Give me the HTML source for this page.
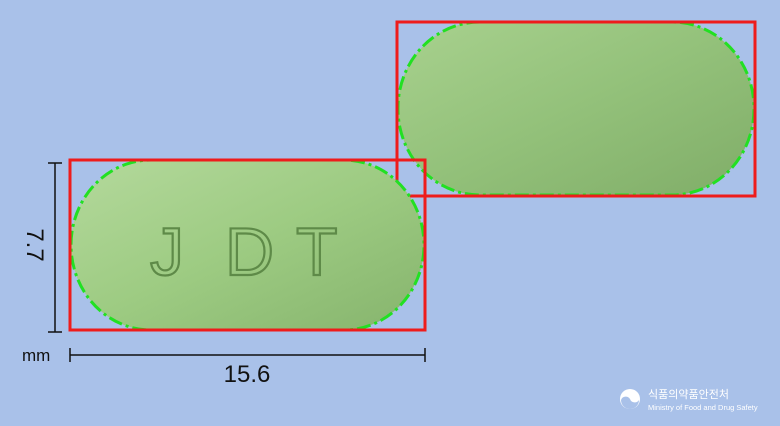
<!DOCTYPE html>
<html><head><meta charset="utf-8"><style>
html,body{margin:0;padding:0;background:#a9c1e9;}
svg{display:block;font-family:"Liberation Sans","Noto Sans CJK KR",sans-serif;}
</style></head><body>
<svg width="780" height="426" viewBox="0 0 780 426">
<defs>
<linearGradient id="g1" x1="0" y1="0" x2="1" y2="1">
<stop offset="0" stop-color="#b4d99c"/><stop offset="0.5" stop-color="#9dcb82"/><stop offset="1" stop-color="#86b46d"/>
</linearGradient>
<linearGradient id="g2" x1="0" y1="0" x2="1" y2="1">
<stop offset="0" stop-color="#a8d18e"/><stop offset="0.5" stop-color="#93c17a"/><stop offset="1" stop-color="#80ad68"/>
</linearGradient>
</defs>
<rect width="780" height="426" fill="#a9c1e9"/>
<g>
<rect x="398" y="22" width="356" height="173" rx="82" ry="86" fill="url(#g2)" stroke="#22e022" stroke-width="3" stroke-dasharray="14 4 3 4"/>
<rect x="397" y="22" width="358" height="174" fill="none" stroke="#ee1c1c" stroke-width="3"/>
</g>
<g>
<rect x="71" y="160" width="353" height="170" rx="80" ry="85" fill="url(#g1)" stroke="#22e022" stroke-width="3" stroke-dasharray="14 4 3 4"/>
<g font-size="68" fill="none" stroke="#5e8a48" stroke-width="2.2">
<text x="150" y="275">J</text>
<text x="225" y="275">D</text>
<text x="296" y="275">T</text>
</g>
<rect x="70" y="160" width="355" height="170" fill="none" stroke="#ee1c1c" stroke-width="3"/>
</g>
<g stroke="#111" stroke-width="1.5">
<line x1="55" y1="163" x2="55" y2="332"/><line x1="48" y1="163" x2="62" y2="163"/><line x1="48" y1="332" x2="62" y2="332"/>
</g>
<text transform="translate(27,245) rotate(90)" text-anchor="middle" font-size="24" fill="#111">7.7</text>
<text x="22" y="361" font-size="17" fill="#111">mm</text>
<g stroke="#111" stroke-width="1.5">
<line x1="70" y1="355" x2="425" y2="355"/><line x1="70" y1="348" x2="70" y2="362"/><line x1="425" y1="348" x2="425" y2="362"/>
</g>
<text x="247" y="382" text-anchor="middle" font-size="24" fill="#111">15.6</text>
<g>
<circle cx="630" cy="399" r="10" fill="#fff"/>
<path d="M621,400 a9,9 0 0 0 18,0 a5,5 0 0 1 -9,-1 a5,5 0 0 0 -9,1z" fill="#a9c1e9"/>
<text x="648" y="398" font-size="11" fill="#fff">식품의약품안전처</text>
<text x="648" y="410" font-size="7.5" fill="#fff">Ministry of Food and Drug Safety</text>
</g>
</svg>
</body></html>
